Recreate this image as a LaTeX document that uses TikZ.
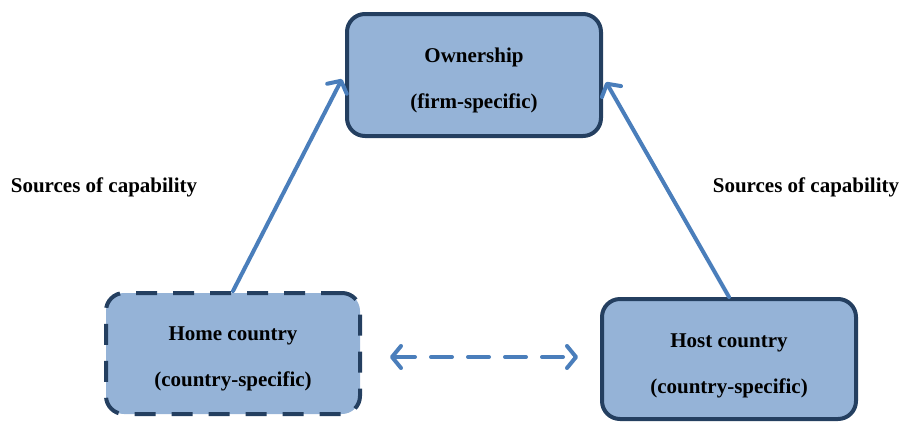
\documentclass[tikz,border=0pt]{standalone}
\usepackage{fontspec}
\setmainfont{Liberation Serif}
\usetikzlibrary{arrows.meta}
\definecolor{boxfill}{HTML}{95B3D7}
\definecolor{boxline}{HTML}{243F60}
\definecolor{arrowblue}{HTML}{4A7EBB}
\tikzset{
  box/.style={draw=boxline, fill=boxfill, line width=4pt, rounded corners=18pt,
    minimum width=254pt, minimum height=122pt, inner sep=0pt, rectangle},
  dashbox/.style={box, dash pattern=on 21pt off 16pt},
  txt/.style={anchor=base, inner sep=0pt, font=\fontsize{21}{25}\selectfont\bfseries},
  link/.style={draw=arrowblue, line width=4pt, line cap=round,
    -{Straight Barb[length=9pt,width=22pt,line cap=round,line join=round]}},
  duallink/.style={link, dash pattern=on 21pt off 16pt,
    {Straight Barb[length=9pt,width=22pt,line cap=round,line join=round]}-{Straight Barb[length=9pt,width=22pt,line cap=round,line join=round]}}
}
\begin{document}
\begin{tikzpicture}[x=1pt,y=-1pt]
\useasboundingbox (0,0) rectangle (904,424);
\node[box] (own) at (474,75) {};
\node[dashbox, minimum height=121pt] (home) at (233,353.5) {};
\node[box, minimum height=120pt] (host) at (729,359) {};

\node[txt] (o1) at (474,62) {Ownership};
\node[txt] (o2) at (474,108) {(firm-specific)};
\node[txt] (h1) at (233,340) {Home country};
\node[txt] (h2) at (233,386) {(country-specific)};
\node[txt] (t1) at (729,347) {Host country};
\node[txt] (t2) at (729,393) {(country-specific)};
\node[txt] (s1) at (104,192) {Sources of capability};
\node[txt] (s2) at (806,192) {Sources of capability};

\coordinate (ownL) at ([xshift=-3pt,yshift=-4pt]own.west);
\coordinate (ownR) at ([xshift=3pt,yshift=-7pt]own.east);
\coordinate (dL) at (390,357);
\coordinate (dR) at (578,357);

\draw[link] (home.north) -- (ownL);
\draw[link] (host.north) -- (ownR);
\draw[duallink] (dL) -- (dR);
\end{tikzpicture}
\end{document}
